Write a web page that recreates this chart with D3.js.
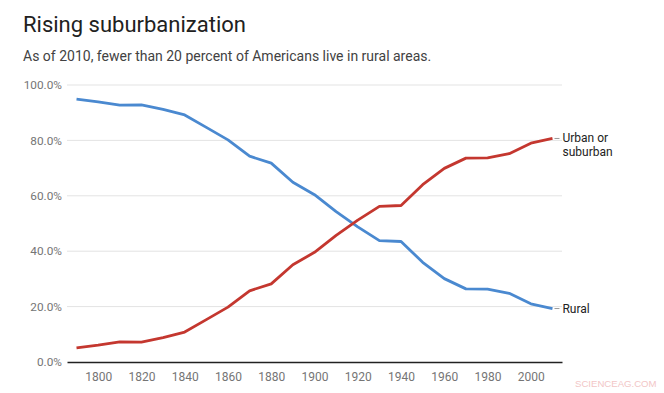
<!DOCTYPE html>
<html><head><meta charset="utf-8">
<script src="https://cdn.jsdelivr.net/npm/d3@7"></script>
<style>body{margin:0;background:#fff}svg{display:block;font-family:Roboto,Arial,sans-serif}</style>
</head><body>
<script>
const years = [1790,1800,1810,1820,1830,1840,1850,1860,1870,1880,1890,1900,1910,1920,1930,1940,1950,1960,1970,1980,1990,2000,2010];
const rural = [94.9,93.9,92.7,92.8,91.2,89.2,84.7,80.2,74.3,71.8,64.9,60.4,54.3,48.8,43.8,43.5,36.0,30.1,26.4,26.3,24.8,21.0,19.3];
const urban = [5.1,6.1,7.3,7.2,8.8,10.8,15.3,19.8,25.7,28.2,35.1,39.6,45.7,51.2,56.2,56.5,64.0,69.9,73.6,73.7,75.2,79.0,80.7];
const xTicks = [1800,1820,1840,1860,1880,1900,1920,1940,1960,1980,2000];
const yTicks = [0,20,40,60,80,100];
const seriesNames = ["Urban or suburban","Rural"];

const W=664,H=393;
const svg=d3.select("body").append("svg").attr("width",W).attr("height",H);
const x=d3.scaleLinear().domain([1785.6,2014.4]).range([67,562]);
const y=d3.scaleLinear().domain([0,100]).range([362,85]);

svg.append("text").attr("x",23).attr("y",32).attr("font-size",22).attr("fill","#212121").text("Rising suburbanization");
svg.append("text").attr("x",23).attr("y",61).attr("font-size",14).attr("fill","#424242").text("As of 2010, fewer than 20 percent of Americans live in rural areas.");

// grid
svg.append("g").selectAll("line").data(yTicks.filter(d=>d>0)).join("line")
 .attr("x1",67).attr("x2",562).attr("y1",d=>y(d)).attr("y2",d=>y(d))
 .attr("stroke","#e3e3e3").attr("stroke-width",1);
// y labels
const yAxis=d3.axisLeft(y).tickValues(yTicks).tickSize(0).tickPadding(5).tickFormat(d=>d.toFixed(1)+"%");
const gy=svg.append("g").attr("transform","translate(67,0)").call(yAxis);
gy.select(".domain").remove();
gy.selectAll("text").attr("font-size",11.8).attr("fill","#757575").attr("font-family","Roboto,Arial,sans-serif");
// x axis
const xAxis=d3.axisBottom(x).tickValues(xTicks).tickSize(0).tickPadding(10).tickFormat(d3.format("d"));
const gx=svg.append("g").attr("transform","translate(0,362)").call(xAxis);
gx.select(".domain").attr("stroke","#222").attr("stroke-width",1.3);
gx.selectAll("text").attr("font-size",12).attr("fill","#757575").attr("font-family","Roboto,Arial,sans-serif");

const line=d3.line().x((d,i)=>x(years[i])).y(d=>y(d));
svg.append("path").attr("d",line(rural)).attr("fill","none").attr("stroke","#4a89d0").attr("stroke-width",2.8).attr("stroke-linejoin","round");
svg.append("path").attr("d",line(urban)).attr("fill","none").attr("stroke","#c4372f").attr("stroke-width",2.8).attr("stroke-linejoin","round");

// end labels
const lx=x(2010);
const uy=y(urban[urban.length-1]), ry=y(rural[rural.length-1]);
svg.append("line").attr("x1",lx+2).attr("x2",lx+7).attr("y1",uy).attr("y2",uy).attr("stroke","#999").attr("stroke-width",1);
svg.append("line").attr("x1",lx+2).attr("x2",lx+7).attr("y1",ry).attr("y2",ry).attr("stroke","#999").attr("stroke-width",1);
const ut=svg.append("text").attr("x",lx+10).attr("y",uy+4).attr("font-size",12).attr("fill","#222");
ut.append("tspan").attr("x",lx+10).text("Urban or");
ut.append("tspan").attr("x",lx+10).attr("dy",14).text("suburban");
svg.append("text").attr("x",lx+10).attr("y",ry+4).attr("font-size",12).attr("fill","#222").text(seriesNames[1]);

svg.append("text").attr("x",575).attr("y",387).attr("font-size",9.6).attr("fill","#f2c6c6").attr("font-family","Arial,sans-serif").text("SCIENCEAG.COM");
</script>
</body></html>
